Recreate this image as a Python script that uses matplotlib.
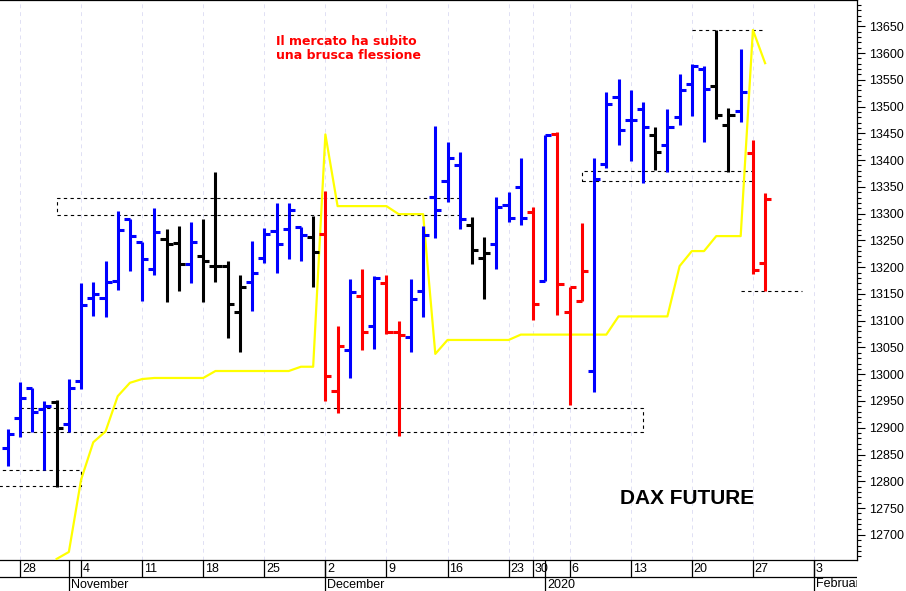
import matplotlib
matplotlib.use("Agg")
import matplotlib.pyplot as plt
from matplotlib.ticker import MultipleLocator, FormatStrFormatter
import numpy as np
import pandas as pd

# sedute Eurex (chiuso 24-26 e 31 dicembre, 1 gennaio)
closed = ["2019-12-24", "2019-12-25", "2019-12-26", "2019-12-31", "2020-01-01"]
days = pd.bdate_range("2019-10-24", "2020-02-07")
days = days[~days.isin(pd.to_datetime(closed))]

first_bar = "2019-10-25"
opens = [12863, 12918, 12974, 12935, 12948, 12907, 12987, 13143, 13143, 13175,
         13290, 13247, 13196, 13252, 13245, 13205, 13220, 13203, 13203, 13117,
         13173, 13218, 13267, 13271, 13275, 13256, 13262, 12969, 13046, 13147,
         13091, 13171, 13079, 13070, 13155, 13331, 13361, 13391, 13279, 13218,
         13243, 13316, 13350, 13303, 13175, 13449, 13117, 13136, 13006, 13393,
         13517, 13474, 13495, 13446, 13429, 13481, 13542, 13570, 13538, 13466,
         13491, 13414, 13207]
highs = [12897, 12985, 12974, 12950, 12952, 12991, 13171, 13173, 13211, 13305,
         13290, 13247, 13310, 13271, 13277, 13284, 13290, 13378, 13211, 13186,
         13248, 13273, 13320, 13320, 13275, 13295, 13342, 13091, 13177, 13196,
         13183, 13185, 13100, 13177, 13277, 13463, 13434, 13416, 13294, 13256,
         13331, 13341, 13403, 13312, 13446, 13453, 13162, 13282, 13403, 13527,
         13551, 13530, 13508, 13461, 13496, 13560, 13579, 13575, 13643, 13498,
         13607, 13438, 13339]
lows = [12828, 12882, 12892, 12822, 12790, 12892, 12972, 13109, 13106, 13158,
        13192, 13136, 13185, 13134, 13155, 13170, 13134, 13173, 13068, 13042,
        13119, 13207, 13190, 13215, 13211, 13162, 12950, 12927, 12993, 13046,
        13048, 13076, 12884, 13042, 13106, 13254, 13322, 13271, 13205, 13140,
        13196, 13284, 13279, 13102, 13175, 13111, 12942, 13136, 12967, 13386,
        13429, 13399, 13357, 13382, 13378, 13466, 13483, 13434, 13476, 13378,
        13472, 13188, 13156]
closes = [12888, 12955, 12930, 12940, 12899, 12974, 13130, 13149, 13173, 13269,
          13258, 13215, 13265, 13243, 13205, 13247, 13211, 13203, 13132, 13162,
          13190, 13262, 13243, 13307, 13260, 13228, 12997, 13053, 13153, 13079,
          13179, 13078, 13074, 13140, 13260, 13307, 13404, 13290, 13232, 13226,
          13312, 13292, 13292, 13132, 13446, 13168, 13162, 13192, 13365, 13504,
          13457, 13474, 13461, 13416, 13461, 13530, 13575, 13532, 13485, 13485,
          13527, 13194, 13327]
bar_colour = list("bbbbkbbbbbbbbkkbkkkkbbbbbkrrbrbrrbbbbbkkbbbrbrrrbbbbbkbbbbkkbrr")

# linea gialla
stop_start = "2019-10-31"
stop = [12655, 12668, 12803, 12873, 12893, 12959, 12984, 12991, 12993, 12993,
        12993, 12993, 12993, 13006, 13006, 13006, 13006, 13006, 13006, 13006,
        13014, 13014, 13448, 13314, 13314, 13314, 13314, 13314, 13299, 13299,
        13299, 13038, 13064, 13064, 13064, 13064, 13064, 13064, 13074, 13074,
        13074, 13074, 13074, 13074, 13074, 13074, 13108, 13108, 13108, 13108,
        13108, 13202, 13230, 13230, 13258, 13258, 13258, 13643, 13581]

# rettangoli tratteggiati: (da, a, min, max)
boxes = [("2019-10-24", "2019-11-04", 12792, 12822),
         ("2019-10-28", "2020-01-14", 12892, 12937),
         ("2019-10-31", "2019-12-17", 13297, 13329),
         ("2020-01-07", "2020-01-27", 13361, 13380)]
levels = [("2020-01-20", "2020-01-28", 13643),
          ("2020-01-24", "2020-01-31", 13156)]

month_names = ["November", "December", "2020", "February"]

cmap = {"b": "#0000ff", "r": "#ff0000", "k": "#000000"}
pos = lambda d: days.get_loc(pd.Timestamp(d))

fig = plt.figure(figsize=(9.06, 5.91), dpi=100)
W, H = 906, 591
ax = fig.add_axes([0, 31 / H, 857 / W, 560 / H])
strip = fig.add_axes([0, 0, 857 / W, 31 / H])

x0 = pos(first_bar)
xb = np.arange(x0, x0 + len(opens))
cols = [cmap[c] for c in bar_colour]
tw = 0.5
ax.vlines(xb, lows, highs, colors=cols, lw=2.2, zorder=4)
ax.hlines(opens, xb - tw, xb, colors=cols, lw=2.2, zorder=4)
ax.hlines(closes, xb, xb + tw, colors=cols, lw=2.2, zorder=4)

xs = np.arange(pos(stop_start), pos(stop_start) + len(stop))
ax.plot(xs, stop, color="#ffff00", lw=1.6, zorder=3)

for d1, d2, lo, hi in boxes:
    a, b = pos(d1), pos(d2)
    ax.plot([a, b, b, a, a], [lo, lo, hi, hi, lo], color="black", lw=0.8,
            ls=(0, (3, 3)), zorder=2)
for d1, d2, lv in levels:
    ax.plot([pos(d1), pos(d2)], [lv, lv], color="black", lw=0.8,
            ls=(0, (3, 3)), zorder=2)

ref = pos("2019-10-28")
xl = (ref - 20 / 12.215, ref + 837 / 12.215)
ax.set_xlim(*xl)
ax.set_ylim(12653, 13699)

mondays = [i for i, d in enumerate(days) if d.weekday() == 0]
ax.set_xticks(mondays)
ax.tick_params(axis="x", length=0, labelbottom=False)
ax.grid(axis="x", color="#e0e0f4", lw=0.7, ls=(0, (4, 4)))

ax.yaxis.tick_right()
ax.yaxis.set_major_locator(MultipleLocator(50))
ax.yaxis.set_minor_locator(MultipleLocator(10))
ax.yaxis.set_major_formatter(FormatStrFormatter("%d"))
ax.tick_params(axis="y", which="major", length=6, width=0.8, pad=3, labelsize=9)
ax.tick_params(axis="y", which="minor", length=3, width=0.8)
for lab in ax.get_yticklabels():
    lab.set_fontfamily("Liberation Sans")
ax.spines["left"].set_visible(False)
for s in ["top", "right", "bottom"]:
    ax.spines[s].set_linewidth(0.9)

ax.text(276 / 857, 1 - 35 / 560, "Il mercato ha subito\nuna brusca flessione",
        transform=ax.transAxes, color="#ff0000", fontsize=9, fontweight="bold",
        family="DejaVu Sans", va="top", ha="left", linespacing=1.1)
ax.text(687 / 857, (560 - 498) / 560, "DAX FUTURE", transform=ax.transAxes,
        fontsize=15, fontweight="bold", family="Liberation Sans",
        ha="center", va="center")

# asse date in basso
strip.set_xlim(*xl)
strip.set_ylim(0, 31)
strip.axis("off")
strip.axhline(14, color="black", lw=0.9)
strip.vlines(mondays, 14, 31, color="black", lw=0.9)
for m in mondays:
    strip.text(m + 0.15, 22.5, str(days[m].day), fontsize=9, family="Liberation Sans",
               va="center", ha="left", clip_on=True)
month_first = [i for i in range(1, len(days)) if days[i].month != days[i - 1].month]
strip.vlines(month_first, 0, 31, color="black", lw=0.9)
for m, name in zip(month_first, month_names):
    strip.text(m + 0.15, 6.5, name, fontsize=9, family="Liberation Sans",
               va="center", ha="left", clip_on=True)

fig.savefig("out.png", dpi=100)
